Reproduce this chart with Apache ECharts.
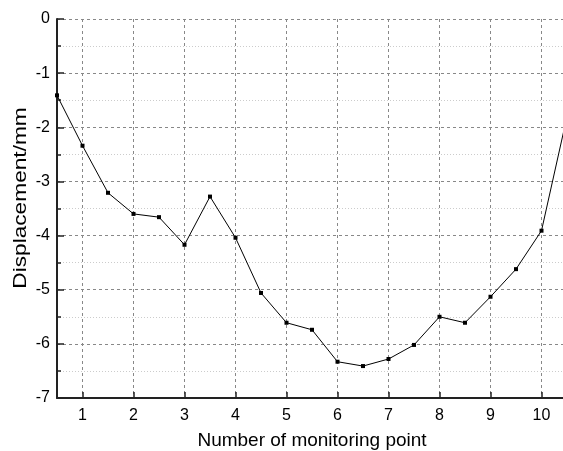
<!DOCTYPE html>
<html>
<head>
<meta charset="utf-8">
<script src="https://cdn.jsdelivr.net/npm/echarts@6/dist/echarts.min.js"></script>
<style>html,body{margin:0;padding:0;background:#fff}#c{width:563px;height:451px}</style>
</head>
<body>
<div id="c"></div>
<script>
var xValues = [0.5, 1, 1.5, 2, 2.5, 3, 3.5, 4, 4.5, 5, 5.5, 6, 6.5, 7, 7.5, 8, 8.5, 9, 9.5, 10, 10.5];
var displacement = [-1.41, -2.34, -3.21, -3.60, -3.66, -4.17, -3.28, -4.04, -5.06, -5.61, -5.74, -6.33, -6.41, -6.28, -6.02, -5.50, -5.61, -5.13, -4.62, -3.91, -1.80];
var xName = 'Number of monitoring point';
var yName = 'Displacement/mm';

var points = xValues.map(function (x, i) { return [x, displacement[i]]; });
var font = 'Liberation Sans, Arial, sans-serif';
var chart = echarts.init(document.getElementById('c'));
chart.setOption({
  animation: false,
  backgroundColor: '#fff',
  grid: { left: 57, width: 510, top: 19, height: 379, containLabel: false, outerBoundsMode: 'none' },
  graphic: [{
    type: 'text', x: 21, y: 198, rotation: Math.PI / 2, scaleX: 1.26,
    style: { text: yName, fontFamily: font, fontSize: 18, fill: '#000', align: 'center', verticalAlign: 'middle' }
  }],
  xAxis: {
    type: 'value', min: 0.5, max: 10.5, minInterval: 1, maxInterval: 1, splitNumber: 10,
    name: xName, nameLocation: 'middle', nameGap: 33,
    nameTextStyle: { fontFamily: font, fontSize: 19, color: '#000' },
    axisLine: { show: true, onZero: false, lineStyle: { color: '#222', width: 2 } },
    axisTick: { show: true, inside: true, length: 6, lineStyle: { color: '#222', width: 1.5 } },
    axisLabel: {
      showMinLabel: false, showMaxLabel: false, margin: 10,
      fontFamily: font, fontSize: 16, color: '#000',
      formatter: function (v) { return Math.abs(v - Math.round(v)) < 1e-6 ? String(Math.round(v)) : ''; }
    },
    splitLine: { show: true, lineStyle: { color: '#888', type: [3, 3], width: 1 } }
  },
  yAxis: {
    type: 'value', min: -7, max: 0, interval: 1,
    axisLine: { show: true, onZero: false, lineStyle: { color: '#222', width: 2 } },
    axisTick: { show: true, inside: true, length: 7, lineStyle: { color: '#222', width: 1.5 } },
    minorTick: { show: true, splitNumber: 2, length: 4, lineStyle: { color: '#222', width: 1.5 } },
    axisLabel: { margin: 7, fontFamily: font, fontSize: 16, color: '#000' },
    splitLine: { show: true, lineStyle: { color: '#888', type: [3, 3], width: 1 } },
    minorSplitLine: { show: true, lineStyle: { color: '#ccc', type: [1, 2], width: 1 } }
  },
  series: [{
    type: 'line', data: points, symbol: 'rect', symbolSize: 4,
    lineStyle: { color: '#000', width: 1 },
    itemStyle: { color: '#000' },
    clip: true
  }]
});
</script>
</body>
</html>
